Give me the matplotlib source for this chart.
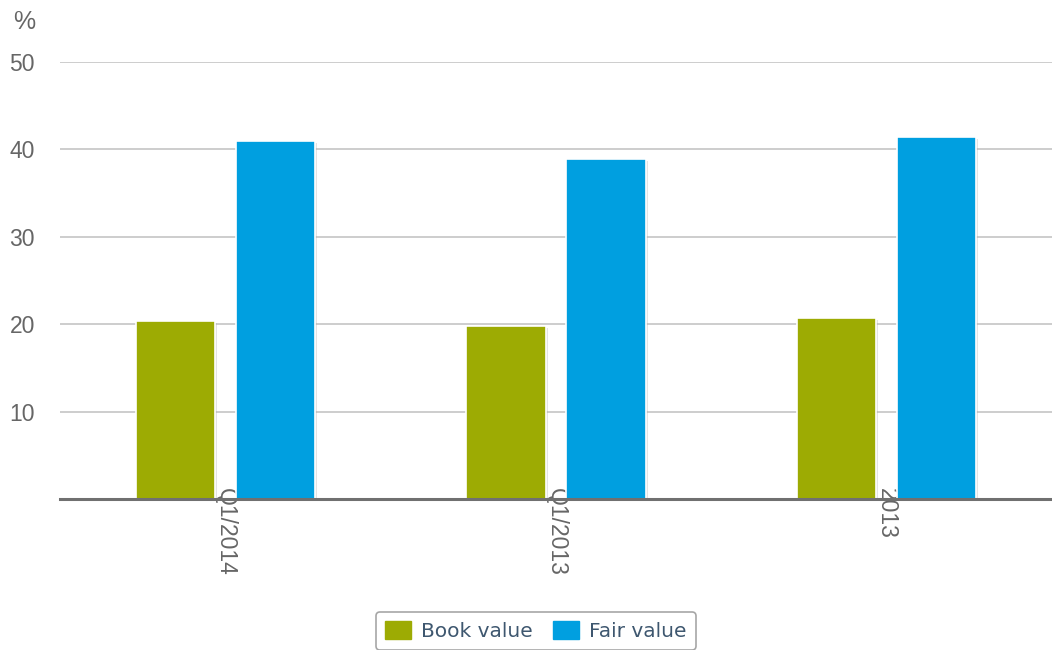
import matplotlib.pyplot as plt
import matplotlib.patheffects as pe
import numpy as np
from matplotlib.patches import Rectangle

categories = ['Q1/2014', 'Q1/2013', '2013']
book_value = [20.4, 19.8, 20.7]
fair_value = [41.0, 38.9, 41.4]
y_ticks = [10, 20, 30, 40, 50]

green = '#9dab03'
blue = '#009fe0'

fig = plt.figure(figsize=(10.52, 6.5), dpi=100)
ax = fig.add_axes([60 / 1052, 151 / 650, 1 - 60 / 1052, 437 / 650])

x = np.arange(len(categories))
w = 0.24
shadow = [pe.SimplePatchShadow(offset=(1.5, -1.5), shadow_rgbFace='#b0b0b0', alpha=0.35), pe.Normal()]
bars1 = ax.bar(x - 0.151, book_value, w, color=green, edgecolor='white', linewidth=1.2, zorder=3)
bars2 = ax.bar(x + 0.151, fair_value, w, color=blue, edgecolor='white', linewidth=1.2, zorder=3)
for b in list(bars1) + list(bars2):
    b.set_path_effects(shadow)

ax.set_xlim(-0.5, len(categories) - 0.5)
ax.set_ylim(0, 50)
ax.set_yticks(y_ticks)
ax.set_yticklabels([str(t) for t in y_ticks])
ax.grid(axis='y', color='#c0c0c0', linewidth=1.1, zorder=0)

for s in ['top', 'right', 'left']:
    ax.spines[s].set_visible(False)
ax.spines['bottom'].set_color('#707070')
ax.spines['bottom'].set_linewidth(2.2)
ax.spines['bottom'].set_zorder(4)

ax.set_xticks(x)
ax.set_xticklabels(categories, rotation=270, va='top', ha='center')
ax.tick_params(axis='x', length=0, pad=-8, labelsize=16.5, labelcolor='#666666')
ax.tick_params(axis='y', length=0, pad=18, labelsize=16.5, labelcolor='#666666')
for lbl in ax.get_xticklabels() + ax.get_yticklabels():
    lbl.set_fontfamily('Liberation Sans')

fig.text(24 / 1052, 1 - 22 / 650, '%', fontsize=18, color='#666666',
         family='Liberation Sans', ha='center', va='center')

handles = [Rectangle((0, 0), 1, 1, color=green), Rectangle((0, 0), 1, 1, color=blue)]
leg = fig.legend(handles, ['Book value', 'Fair value'], loc='upper center',
                 bbox_to_anchor=(536 / 1052, 1 - 612 / 650), ncol=2,
                 fontsize=14.5, handlelength=1.3, handleheight=1.0,
                 handletextpad=0.5, columnspacing=1.0, borderpad=0.45,
                 borderaxespad=0, frameon=True, fancybox=True,
                 edgecolor='#909090', labelcolor='#3e576f')
leg.get_frame().set_linewidth(1.2)

fig.savefig('out.png', dpi=100)
